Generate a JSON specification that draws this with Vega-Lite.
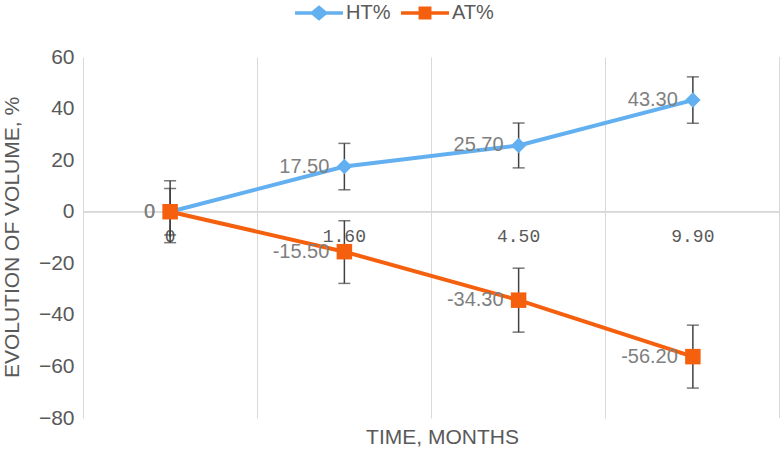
{
  "$schema": "https://vega.github.io/schema/vega-lite/v6.json",
  "width": 697,
  "height": 361,
  "autosize": "none",
  "padding": {"left": 83, "top": 57, "right": 0, "bottom": 37},
  "background": "white",
  "config": {"view": {"stroke": null}, "font": "Liberation Sans"},
  "data": {
    "values": [
      {"time": "0", "series": "HT%", "value": 0, "lo": -12, "hi": 12, "lab": "0"},
      {"time": "1.60", "series": "HT%", "value": 17.5, "lo": 8.5, "hi": 26.5, "lab": "17.50"},
      {"time": "4.50", "series": "HT%", "value": 25.7, "lo": 17, "hi": 34.4, "lab": "25.70"},
      {"time": "9.90", "series": "HT%", "value": 43.3, "lo": 34.3, "hi": 52.3, "lab": "43.30"},
      {"time": "0", "series": "AT%", "value": 0, "lo": -9, "hi": 9, "lab": "0"},
      {"time": "1.60", "series": "AT%", "value": -15.5, "lo": -27.8, "hi": -3.5, "lab": "-15.50"},
      {"time": "4.50", "series": "AT%", "value": -34.3, "lo": -46.7, "hi": -21.9, "lab": "-34.30"},
      {"time": "9.90", "series": "AT%", "value": -56.2, "lo": -68.4, "hi": -44, "lab": "-56.20"}
    ]
  },
  "layer": [
    {
      "mark": {"type": "rule", "color": "#d9d9d9", "strokeWidth": 1},
      "encoding": {"y": {"datum": 0, "type": "quantitative"}}
    },
    {
      "mark": {"type": "rule", "color": "#d9d9d9", "strokeWidth": 1},
      "encoding": {"x": {"datum": "9.90", "type": "ordinal", "bandPosition": 1}}
    },
    {
      "mark": {"type": "rule", "color": "#404040", "strokeWidth": 1.5},
      "encoding": {
        "x": {"field": "time", "type": "ordinal"},
        "y": {"field": "lo", "type": "quantitative"},
        "y2": {"field": "hi"}
      }
    },
    {
      "mark": {"type": "tick", "color": "#404040", "thickness": 1.5, "size": 12, "orient": "horizontal"},
      "encoding": {
        "x": {"field": "time", "type": "ordinal"},
        "y": {"field": "lo", "type": "quantitative"}
      }
    },
    {
      "mark": {"type": "tick", "color": "#404040", "thickness": 1.5, "size": 12, "orient": "horizontal"},
      "encoding": {
        "x": {"field": "time", "type": "ordinal"},
        "y": {"field": "hi", "type": "quantitative"}
      }
    },
    {
      "mark": {"type": "line", "strokeWidth": 4},
      "encoding": {
        "x": {
          "field": "time",
          "type": "ordinal",
          "sort": ["0", "1.60", "4.50", "9.90"],
          "scale": {"domain": ["0", "1.60", "4.50", "9.90"], "paddingInner": 0, "paddingOuter": 0},
          "axis": {
            "title": "TIME, MONTHS",
            "offset": -206,
            "domain": false,
            "ticks": false,
            "grid": true,
            "gridColor": "#d9d9d9",
            "gridWidth": 1,
            "bandPosition": 0,
            "labelAngle": 0,
            "labelAlign": "center",
            "labelFont": "Liberation Mono",
            "labelFontSize": 18,
            "labelColor": "#595959",
            "labelPadding": 24,
            "titleFont": "Liberation Sans",
            "titleFontSize": 21,
            "titleFontWeight": "normal",
            "titleColor": "#595959",
            "titleX": 359,
            "titleY": 225,
            "titleBaseline": "middle"
          }
        },
        "y": {
          "field": "value",
          "type": "quantitative",
          "scale": {"domain": [-80, 60], "nice": false, "zero": false},
          "axis": {
            "values": [-80, -60, -40, -20, 0, 20, 40, 60],
            "grid": false,
            "domain": false,
            "ticks": false,
            "labelFontSize": 21,
            "labelColor": "#595959",
            "labelPadding": 9,
            "title": "EVOLUTION OF VOLUME, %",
            "titleFontSize": 21,
            "titleFontWeight": "normal",
            "titleColor": "#595959",
            "titleX": -71,
            "titleY": 180,
            "titleAlign": "center",
            "titleBaseline": "middle",
            "titleAngle": -90
          }
        },
        "color": {
          "field": "series",
          "type": "nominal",
          "scale": {"domain": ["HT%", "AT%"], "range": ["#62B0F0", "#F5600F"]},
          "legend": {
            "orient": "none",
            "legendX": 212,
            "legendY": -68,
            "direction": "horizontal",
            "title": null,
            "labelFontSize": 20,
            "labelColor": "#595959",
            "labelOffset": 3,
            "columnPadding": 10,
            "symbolSize": 2300,
            "symbolType": {"expr": "datum.value === 'HT%' ? 'M-1,-0.07H-0.3L0,-0.32L0.3,-0.07H1V0.07H0.3L0,0.32L-0.3,0.07H-1Z' : 'M-1,-0.07H-0.27V-0.27H0.27V-0.07H1V0.07H0.27V0.27H-0.27V0.07H-1Z'"},
            "symbolFillColor": {"expr": "datum.value === 'HT%' ? '#62B0F0' : '#F5600F'"},
            "symbolStrokeWidth": 0,
            "encode": {
              "symbols": {
                "update": {
                  "shape": {"signal": "datum.value === 'HT%' ? 'M-1,-0.07H-0.3L0,-0.32L0.3,-0.07H1V0.07H0.3L0,0.32L-0.3,0.07H-1Z' : 'M-1,-0.07H-0.27V-0.27H0.27V-0.07H1V0.07H0.27V0.27H-0.27V0.07H-1Z'"},
                  "fill": {"signal": "datum.value === 'HT%' ? '#62B0F0' : '#F5600F'"},
                  "fillOpacity": {"value": 1},
                  "strokeWidth": {"value": 0},
                  "opacity": {"value": 1}
                }
              }
            }
          }
        }
      }
    },
    {
      "transform": [{"filter": "datum.series === 'HT%'"}],
      "mark": {"type": "point", "filled": true, "opacity": 1, "shape": "diamond", "size": 240},
      "encoding": {
        "x": {"field": "time", "type": "ordinal"},
        "y": {"field": "value", "type": "quantitative"},
        "color": {"field": "series", "type": "nominal"}
      }
    },
    {
      "transform": [{"filter": "datum.series === 'AT%'"}],
      "mark": {"type": "point", "filled": true, "opacity": 1, "shape": "square", "size": 240},
      "encoding": {
        "x": {"field": "time", "type": "ordinal"},
        "y": {"field": "value", "type": "quantitative"},
        "color": {"field": "series", "type": "nominal"}
      }
    },
    {
      "mark": {"type": "text", "align": "right", "baseline": "middle", "dx": -15, "fontSize": 20, "color": "#7f7f7f"},
      "encoding": {
        "x": {"field": "time", "type": "ordinal"},
        "y": {"field": "value", "type": "quantitative"},
        "text": {"field": "lab"}
      }
    }
  ]
}
